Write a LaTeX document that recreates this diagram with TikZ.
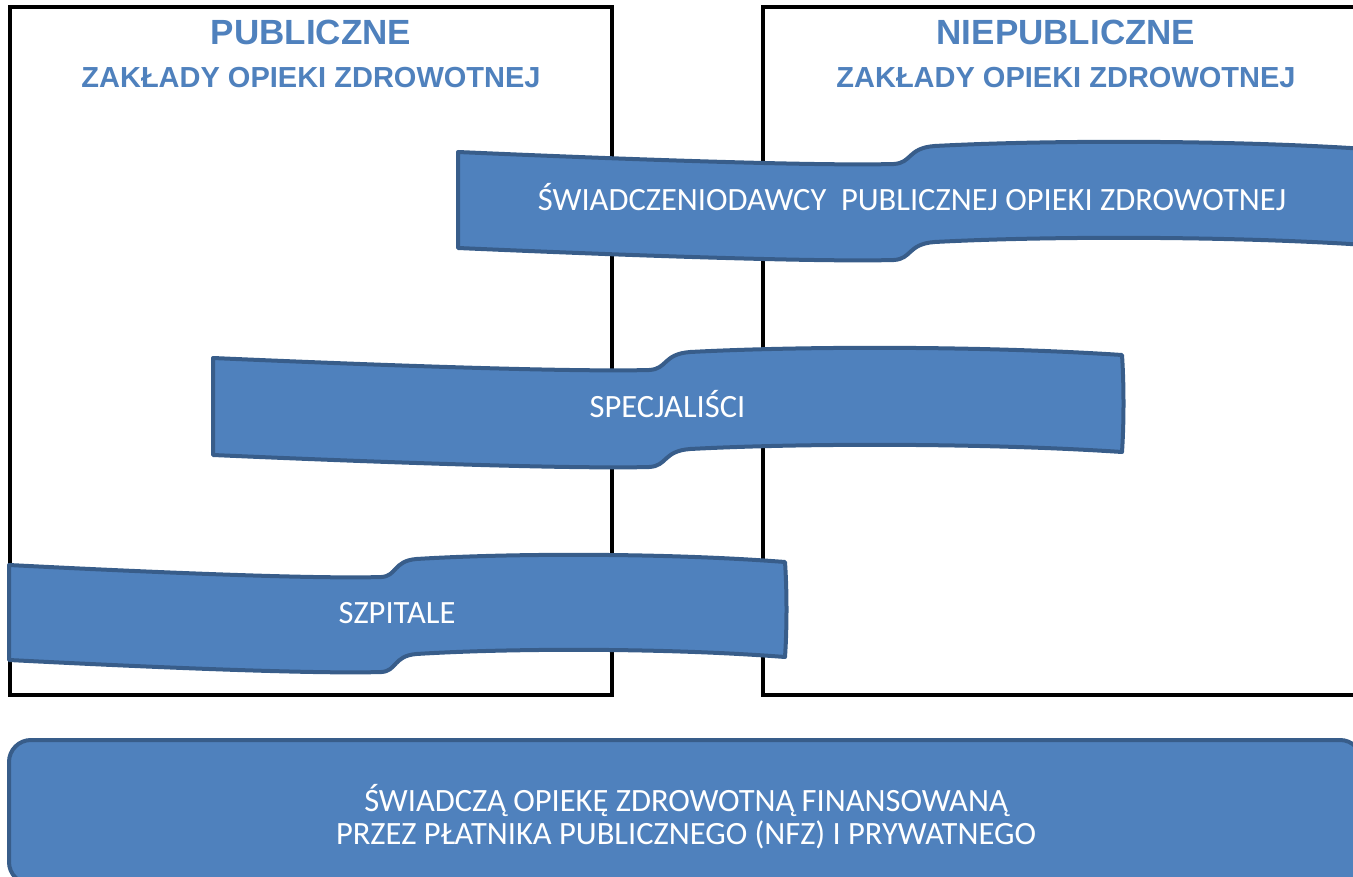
\documentclass[tikz,border=0pt]{standalone}
\usepackage{fontspec}
\setmainfont{Carlito}
\newfontfamily\titlefont{Liberation Sans}
\definecolor{accblue}{HTML}{4F81BD}
\definecolor{accdark}{HTML}{385D8A}
% ribbon: #1 name, #2 left, #3 top, #4 width, #5 height, #6 text
\newcommand{\ribbon}[6]{%
  \draw[ribbonshape]
    (#2,#3)
    .. controls ({#2+0.2*#4},{#3+8}) and ({#2+0.4*#4},{#3+14}) .. ({#2+0.48*#4},{#3+12})
    .. controls ({#2+0.5*#4},{#3+11}) and ({#2+0.495*#4},{#3-4}) .. ({#2+0.525*#4},{#3-6})
    .. controls ({#2+0.65*#4},{#3-12}) and ({#2+0.85*#4},{#3-12}) .. ({#2+#4},{#3-3})
    .. controls ({#2+#4+2},{#3-3+0.3*#5}) and ({#2+#4+2},{#3-3+0.7*#5}) .. ({#2+#4},{#3-3+#5})
    .. controls ({#2+0.85*#4},{#3-12+#5}) and ({#2+0.65*#4},{#3-12+#5}) .. ({#2+0.525*#4},{#3-6+#5})
    .. controls ({#2+0.495*#4},{#3-4+#5}) and ({#2+0.5*#4},{#3+11+#5}) .. ({#2+0.48*#4},{#3+12+#5})
    .. controls ({#2+0.4*#4},{#3+14+#5}) and ({#2+0.2*#4},{#3+8+#5}) .. ({#2},{#3+#5})
    -- cycle;
  \node[ribbontext] (#1) at ({#2+0.5*#4},{#3+0.5*#5+11}) {#6};
}
\tikzset{
  frame/.style={draw=black, line width=4.5pt},
  ribbonshape/.style={draw=accdark, fill=accblue, line width=4pt, line join=round},
  ribbontext/.style={anchor=base, text=white, font=\fontsize{32.5}{39}\selectfont, inner sep=0pt},
  titlebig/.style={anchor=base, text=accblue, font=\titlefont\bfseries\fontsize{35}{40}\selectfont, inner sep=0pt},
  titlesmall/.style={anchor=base, text=accblue, font=\titlefont\bfseries\fontsize{29}{34}\selectfont, inner sep=0pt},
  basebox/.style={draw=accdark, fill=accblue, line width=4pt, rounded corners=22pt},
  basetext/.style={anchor=base, text=white, font=\fontsize{32.5}{39}\selectfont, inner sep=0pt}
}
\begin{document}
\begin{tikzpicture}[x=1pt,y=-1pt]
\useasboundingbox (0,0) rectangle (1353,877);
% frames
\draw[frame] (10,7) rectangle (612,695);
\draw[frame] (1370,7) -- (763,7) -- (763,695) -- (1370,695);
% titles
\node[titlebig] (pubt) at (311,45) {PUBLICZNE};
\node[titlesmall] (pubs) at (311,88) {ZAKŁADY OPIEKI ZDROWOTNEJ};
\node[titlebig] (npubt) at (1066,45) {NIEPUBLICZNE};
\node[titlesmall] (npubs) at (1066,88) {ZAKŁADY OPIEKI ZDROWOTNEJ};
% ribbons
\ribbon{swiad}{458}{152}{908}{96}{ŚWIADCZENIODAWCY\ \ PUBLICZNEJ OPIEKI ZDROWOTNEJ}
\ribbon{spec}{213}{358}{909}{97}{SPECJALIŚCI}
\ribbon{szpit}{9}{565}{776}{95}{SZPITALE}
% bottom box
\draw[basebox] (9,740) rectangle (1362,884);
\node[basetext] (b1) at (686,811) {ŚWIADCZĄ OPIEKĘ ZDROWOTNĄ FINANSOWANĄ};
\node[basetext] (b2) at (686,844) {PRZEZ PŁATNIKA PUBLICZNEGO (NFZ) I PRYWATNEGO};
\end{tikzpicture}
\end{document}
